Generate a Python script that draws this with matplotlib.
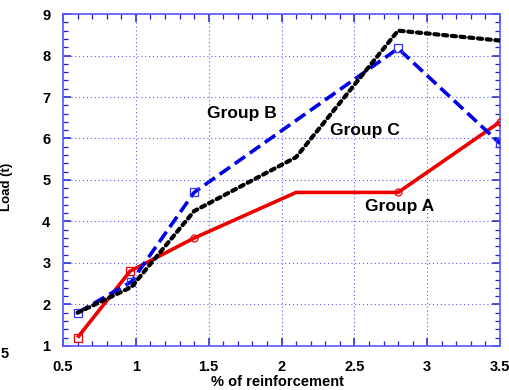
import numpy as np
import matplotlib.pyplot as plt
from matplotlib.ticker import MultipleLocator, FuncFormatter

plt.rcParams['font.family'] = ['Liberation Sans', 'DejaVu Sans']

# % of reinforcement vs load (t) for the three groups
x_a = [0.6, 0.96, 1.4, 2.1, 2.8, 3.5]
load_a = [1.2, 2.8, 3.6, 4.7, 4.7, 6.4]
x_a_sq = [0.6, 0.96]
load_a_sq = [1.2, 2.8]
x_a_circ = [1.4, 2.8, 3.5]
load_a_circ = [3.6, 4.7, 6.4]

x_b = [0.6, 0.97, 1.4, 2.8, 3.5]
load_b = [1.8, 2.55, 4.7, 8.17, 5.88]

x_c = [0.6, 0.97, 1.4, 2.1, 2.8, 3.5]
load_c = [1.8, 2.42, 4.25, 5.55, 8.6, 8.36]

axcol = '#5a5aff'

fig = plt.figure(figsize=(5.1, 3.9), dpi=100)
ax = fig.add_axes([0.1235, 0.113, 0.857, 0.851])

ax.plot(x_a, load_a, color='#ee0000', lw=2.6, solid_capstyle='butt', zorder=3)
ax.plot(x_a_sq, load_a_sq, ls='none', marker='s', ms=5.5, mfc='none',
        mec='#ee0000', mew=0.9, zorder=3)
ax.plot(x_a_circ, load_a_circ, ls='none', marker='o', ms=5, mfc='none',
        mec='#ee0000', mew=0.9, zorder=3)

lb, = ax.plot(x_b, load_b, color='#0000e6', lw=2.6, marker='s', ms=5.5,
              mfc='none', mec='#3333ff', mew=0.9, zorder=4)
lb.set_dashes((3.5, 1.6))

lc, = ax.plot(x_c, load_c, color='black', lw=3.0, zorder=5,
              dash_capstyle='round')
lc.set_dashes((1.0, 1.1))

ax.text(1.49, 6.61, 'Group B', fontsize=12.5, fontweight='bold', va='center')
ax.text(2.33, 6.2, 'Group C', fontsize=12.5, fontweight='bold', va='center')
ax.text(2.57, 4.35, 'Group A', fontsize=12.5, fontweight='bold', va='center')

ax.set_xlim(0.5, 3.5)
ax.set_ylim(1, 9)
ax.xaxis.set_major_locator(MultipleLocator(0.5))
ax.xaxis.set_minor_locator(MultipleLocator(0.1))
ax.yaxis.set_major_locator(MultipleLocator(1))
ax.yaxis.set_minor_locator(MultipleLocator(0.2))
ax.xaxis.set_major_formatter(FuncFormatter(lambda v, p: f'{v:g}'))

ax.grid(which='major', color=axcol, ls=(0, (1, 2.5)), lw=0.8)
for s in ax.spines.values():
    s.set_color(axcol)
    s.set_linewidth(1.2)
ax.tick_params(which='both', direction='in', top=True, right=True,
               color='#2020cc')
ax.tick_params(which='major', length=6, width=1.1, labelsize=10.5)
ax.tick_params(axis='x', which='major', pad=10)
ax.tick_params(axis='y', which='major', pad=9)
ax.tick_params(which='minor', length=3.5, width=0.9)
for lab in ax.get_xticklabels() + ax.get_yticklabels():
    lab.set_fontweight('bold')

ax.set_xlabel('% of reinforcement', fontsize=10.5, fontweight='bold')
ax.xaxis.set_label_coords(0.49, -0.088)
ax.set_ylabel('Load (t)', fontsize=9.5, fontweight='bold')
ax.yaxis.set_label_coords(-0.114, 0.48)

fig.text(0.002, 0.092, '5', fontsize=10.5, fontweight='bold', va='center')

fig.savefig('out.png', dpi=100)
